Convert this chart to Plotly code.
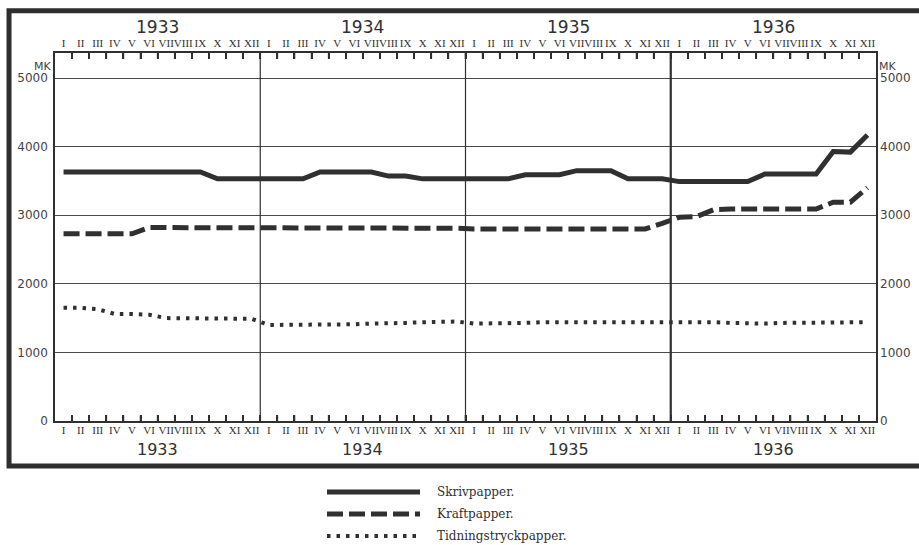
import plotly.graph_objects as go

# ---------------- data ----------------
years = ["1933", "1934", "1935", "1936"]
month_labels = ["I", "II", "III", "IV", "V", "VI", "VII", "VIII", "IX", "X", "XI", "XII"]

skrivpapper = [
    3630, 3630, 3630, 3630, 3630, 3630, 3630, 3630, 3630, 3530, 3530, 3530,   # 1933
    3530, 3530, 3530, 3630, 3630, 3630, 3630, 3570, 3570, 3530, 3530, 3530,   # 1934
    3530, 3530, 3530, 3590, 3590, 3590, 3650, 3650, 3650, 3530, 3530, 3530,   # 1935
    3490, 3490, 3490, 3490, 3490, 3600, 3600, 3600, 3600, 3930, 3920, 4170,   # 1936
]
kraftpapper = [
    2730, 2730, 2730, 2730, 2730, 2820, 2820, 2820, 2820, 2820, 2820, 2820,
    2820, 2820, 2820, 2820, 2820, 2820, 2820, 2820, 2810, 2810, 2810, 2810,
    2800, 2800, 2800, 2800, 2800, 2800, 2800, 2800, 2800, 2800, 2800, 2880,
    2970, 2980, 3080, 3090, 3090, 3090, 3090, 3090, 3090, 3190, 3190, 3400,
]
tidningstryckpapper = [
    1650, 1650, 1630, 1560, 1560, 1550, 1500, 1500, 1500, 1500, 1500, 1490,
    1400, 1400, 1400, 1400, 1410, 1410, 1420, 1420, 1430, 1440, 1440, 1450,
    1420, 1420, 1430, 1430, 1440, 1440, 1450, 1450, 1450, 1450, 1450, 1450,
    1450, 1450, 1440, 1430, 1420, 1420, 1430, 1430, 1440, 1440, 1440, 1440,
]
y_ticks = [0, 1000, 2000, 3000, 4000, 5000]
series_names = ["Skrivpapper.", "Kraftpapper.", "Tidningstryckpapper."]

# ---------------- derived ----------------
n_months = len(years) * len(month_labels)
x_mid = [i + 0.5 for i in range(n_months)]
month_text = month_labels * len(years)
month_bounds = [i for i in range(1, n_months)]
year_centers = [k * len(month_labels) + len(month_labels) / 2 for k in range(len(years))]
year_bounds = [k * len(month_labels) for k in range(1, len(years))]

INK = "#303030"
GRID = "#4a4a4a"
SERIF = "Liberation Serif"
SANS = "DejaVu Sans"

styles = [
    dict(color=INK, width=5, dash="solid"),
    dict(color=INK, width=5, dash="16px,6px"),
    dict(color=INK, width=4, dash="3.5px,6px"),
]

fig = go.Figure()
for name, vals, st in zip(series_names, [skrivpapper, kraftpapper, tidningstryckpapper], styles):
    fig.add_trace(go.Scatter(x=x_mid, y=vals, mode="lines", name=name,
                             line=st, showlegend=False, hoverinfo="skip"))

# helper traces so the label axes (top, bottom overlay, right) are drawn
fig.add_trace(go.Scatter(x=[x_mid[0]], y=[0], xaxis="x2", yaxis="y2", mode="markers",
                         marker=dict(opacity=0), showlegend=False, hoverinfo="skip"))
fig.add_trace(go.Scatter(x=[x_mid[0]], y=[0], xaxis="x3", yaxis="y", mode="markers",
                         marker=dict(opacity=0), showlegend=False, hoverinfo="skip"))

ymax = 5365
label_axis = dict(
    range=[0, n_months], tickmode="array", tickvals=x_mid, ticktext=month_text,
    ticks="", showgrid=False, zeroline=False, tickangle=0, automargin=False,
    showline=False, tickfont=dict(family=SERIF, size=11, color=INK),
)
fig.update_layout(
    width=919, height=545, autosize=False,
    margin=dict(l=55, r=43, t=53, b=124),
    paper_bgcolor="white", plot_bgcolor="white",
    xaxis=dict(range=[0, n_months], tickmode="array", tickvals=month_bounds,
               ticks="inside", ticklen=6, tickwidth=1.6, tickcolor=INK,
               showticklabels=False, showgrid=False, zeroline=False,
               showline=True, linecolor=INK, linewidth=1.5, mirror="ticks",
               automargin=False),
    xaxis2=dict(**label_axis, overlaying="x", side="top", ticklabelstandoff=3),
    xaxis3=dict(**label_axis, overlaying="x", side="bottom", anchor="y",
                ticklabelstandoff=1),
    yaxis=dict(range=[0, ymax], tickmode="array", tickvals=y_ticks,
               ticktext=[str(v) for v in y_ticks], ticks="", showgrid=True,
               gridcolor=GRID, gridwidth=1, zeroline=False, showline=True,
               linecolor=INK, linewidth=1.5, mirror=True, automargin=False,
               tickfont=dict(family=SANS, size=12, color="#444"), ticklabelstandoff=3),
    yaxis2=dict(range=[0, ymax], overlaying="y", side="right", tickmode="array",
                tickvals=y_ticks, ticktext=[str(v) for v in y_ticks], ticks="",
                showgrid=False, zeroline=False, showline=False, automargin=False,
                tickfont=dict(family=SANS, size=12, color="#444"), ticklabelstandoff=3),
)

shapes = []
# month boundary ticks along the top and bottom edges of the plot box
tick_frac = 6 / 368
for b in month_bounds:
    shapes.append(dict(type="line", xref="x", yref="paper", x0=b, x1=b, y0=0, y1=tick_frac,
                       line=dict(color=INK, width=1.6), layer="above"))
    shapes.append(dict(type="line", xref="x", yref="paper", x0=b, x1=b, y0=1 - tick_frac, y1=1,
                       line=dict(color=INK, width=1.6), layer="above"))
# year separators
for b in year_bounds:
    shapes.append(dict(type="line", xref="x", yref="paper", x0=b, x1=b, y0=0, y1=1,
                       line=dict(color=INK, width=2.2 if b == year_bounds[-1] else 1.2)))
# outer frame
shapes.append(dict(type="rect", xref="paper", yref="paper",
                   x0=-0.056, x1=1.07, y0=-0.122, y1=1.115,
                   line=dict(color="#2e2e2e", width=5), fillcolor="rgba(0,0,0,0)", layer="below"))

annotations = []
for yc, yr in zip(year_centers, years):
    annotations.append(dict(x=yc, y=1.071, xref="x", yref="paper", text=yr, showarrow=False,
                            font=dict(family=SANS, size=17, color=INK), yanchor="middle"))
    annotations.append(dict(x=yc, y=-0.077, xref="x", yref="paper", text=yr, showarrow=False,
                            font=dict(family=SANS, size=16, color=INK), yanchor="middle"))
annotations.append(dict(x=-0.028, y=0.986, xref="paper", yref="paper", text="MK",
                        showarrow=False, font=dict(family=SANS, size=11, color="#444")))
annotations.append(dict(x=1.0268, y=0.986, xref="paper", yref="paper", text="MK",
                        showarrow=False, font=dict(family=SANS, size=11, color="#444")))

# legend (drawn below the frame)
leg_y = [-0.193, -0.2527, -0.3125]
for name, st, ly in zip(series_names, styles, leg_y):
    shapes.append(dict(type="line", xref="paper", yref="paper", x0=0.3313, x1=0.4446,
                       y0=ly, y1=ly, line=dict(color=st["color"], width=st["width"],
                                               dash=st["dash"])))
    annotations.append(dict(x=0.4628, y=ly, xref="paper", yref="paper", text=name,
                            showarrow=False, xanchor="left", yanchor="middle",
                            font=dict(family="DejaVu Serif", size=12, color=INK)))

fig.update_layout(shapes=shapes, annotations=annotations)
fig.write_html("out.html", config={"displayModeBar": False},
               post_script="document.body.style.margin='0';document.body.style.overflow='hidden';")
